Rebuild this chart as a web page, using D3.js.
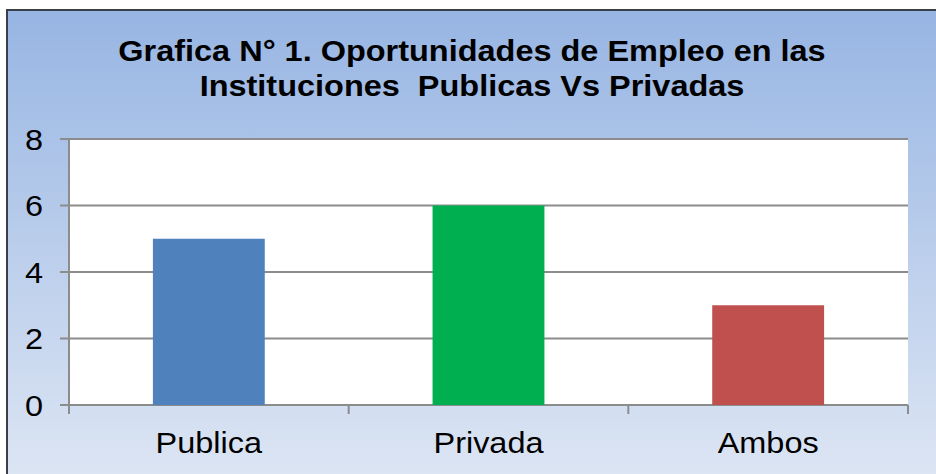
<!DOCTYPE html>
<html>
<head>
<meta charset="utf-8">
<script src="https://cdn.jsdelivr.net/npm/d3@7"></script>
<style>
  body { margin: 0; background: #fff; }
  svg { display: block; font-family: "Liberation Sans", Arial, sans-serif; }
</style>
</head>
<body>
<svg id="chart" width="936" height="474"></svg>
<script>
// datos
const categories = ["Publica", "Privada", "Ambos"];
const values = [5, 6, 3];
const barColors = ["#4f81bd", "#00b050", "#c0504d"];
const yTicks = [0, 2, 4, 6, 8];
const titleLines = ["Grafica N° 1. Oportunidades de Empleo en las", "Instituciones  Publicas Vs Privadas"];

const svg = d3.select("#chart");
const W = 936, H = 474;
const plot = { left: 69, right: 908, top: 139, bottom: 405 };
const stretch = 1.12; // el texto original aparece algo ensanchado

// fondo degradado
const defs = svg.append("defs");
const grad = defs.append("linearGradient")
  .attr("id", "bg").attr("x1", 0).attr("y1", 0).attr("x2", 0).attr("y2", 1);
grad.append("stop").attr("offset", "0%").attr("stop-color", "#97b5e3");
grad.append("stop").attr("offset", "100%").attr("stop-color", "#dfe7f4");

svg.append("rect")
  .attr("x", 7).attr("y", 10)
  .attr("width", W + 10).attr("height", H + 10)
  .attr("fill", "url(#bg)")
  .attr("stroke", "#3b3f48")
  .attr("stroke-width", 2);

// escalas
const x = d3.scaleBand()
  .domain(categories)
  .range([plot.left, plot.right])
  .paddingInner(0.6)
  .paddingOuter(0.3);

const y = d3.scaleLinear()
  .domain([0, 8])
  .range([plot.bottom, plot.top]);

// área de trazado
svg.append("rect")
  .attr("x", plot.left).attr("y", plot.top)
  .attr("width", plot.right - plot.left)
  .attr("height", plot.bottom - plot.top)
  .attr("fill", "#fff");

// líneas de cuadrícula
svg.append("g")
  .selectAll("line")
  .data(yTicks)
  .join("line")
    .attr("x1", plot.left - 9)
    .attr("x2", plot.right)
    .attr("y1", d => y(d))
    .attr("y2", d => y(d))
    .attr("stroke", "#8c8c8c")
    .attr("stroke-width", 2);

// eje vertical
svg.append("line")
  .attr("x1", plot.left).attr("x2", plot.left)
  .attr("y1", plot.top).attr("y2", plot.bottom + 9)
  .attr("stroke", "#8c8c8c")
  .attr("stroke-width", 2);

// marcas del eje x (entre categorías)
const step = (plot.right - plot.left) / categories.length;
svg.append("g")
  .selectAll("line")
  .data(d3.range(1, categories.length + 1))
  .join("line")
    .attr("x1", i => plot.left + i * step)
    .attr("x2", i => plot.left + i * step)
    .attr("y1", plot.bottom)
    .attr("y2", plot.bottom + 9)
    .attr("stroke", "#8c8c8c")
    .attr("stroke-width", 2);

// barras
svg.append("g")
  .selectAll("rect")
  .data(values)
  .join("rect")
    .attr("x", (d, i) => x(categories[i]))
    .attr("y", d => y(d))
    .attr("width", x.bandwidth())
    .attr("height", d => y(0) - y(d))
    .attr("fill", (d, i) => barColors[i]);

// etiquetas del eje y
svg.append("g")
  .selectAll("text")
  .data(yTicks)
  .join("text")
    .attr("transform", d => `translate(43,${y(d) + 10.5}) scale(${stretch},1)`)
    .attr("text-anchor", "end")
    .attr("font-size", "29px")
    .attr("fill", "#000")
    .text(d => d);

// etiquetas del eje x
svg.append("g")
  .selectAll("text")
  .data(categories)
  .join("text")
    .attr("transform", d => `translate(${x(d) + x.bandwidth() / 2},453) scale(${stretch},1)`)
    .attr("text-anchor", "middle")
    .attr("font-size", "29px")
    .attr("fill", "#000")
    .text(d => d);

// título
svg.append("g")
  .selectAll("text")
  .data(titleLines)
  .join("text")
    .attr("transform", (d, i) => `translate(472,${61 + i * 35}) scale(${stretch},1)`)
    .attr("text-anchor", "middle")
    .attr("font-size", "29px")
    .attr("font-weight", "bold")
    .attr("fill", "#000")
    .style("white-space", "pre")
    .text(d => d);
</script>
</body>
</html>
